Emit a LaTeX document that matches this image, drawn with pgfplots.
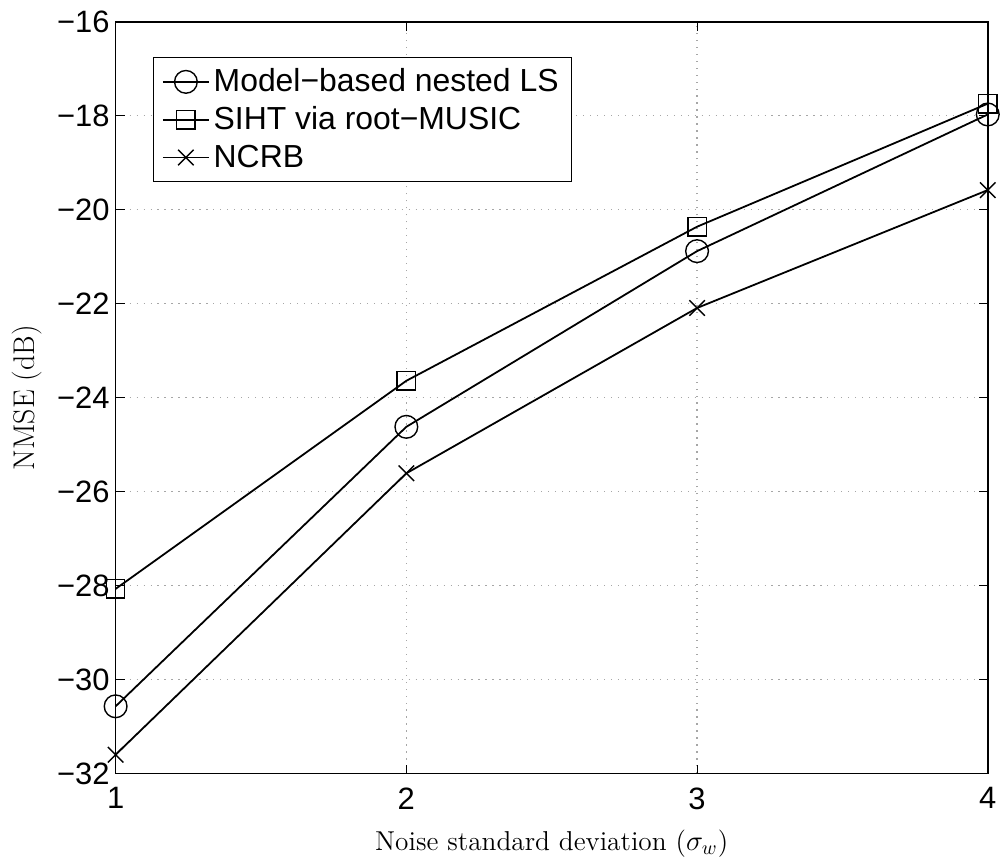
\documentclass[border=0pt]{standalone}
\usepackage{fontspec}
\usepackage{pgfplots}
\pgfplotsset{compat=1.18}
\newfontfamily\arial{Liberation Sans}

\begin{document}
\begin{tikzpicture}
\begin{axis}[
  width=437.5pt, height=377pt, scale only axis,
  xmin=1, xmax=4, ymin=-32, ymax=-16,
  xtick={1,2,3,4}, xticklabels={1,2,3,4},
  ytick={-32,-30,-28,-26,-24,-22,-20,-18,-16},
  yticklabels={−32,−30,−28,−26,−24,−22,−20,−18,−16},
  tick label style={font=\arial\fontsize{15.5}{16}\selectfont},
  xticklabel style={yshift=-3.5pt},
  yticklabel style={xshift=0.5pt},
  tick align=inside,
  major tick length=4.5pt,
  tick style={black, line width=0.5pt},
  axis line style={line width=0.8pt},
  grid=major,
  grid style={dash pattern=on 0.6pt off 2.9pt, gray!70, line width=0.6pt},
  xlabel={Noise standard deviation ($\sigma_w$)},
  ylabel={NMSE (dB)},
  xlabel style={font=\fontsize{13.7}{16}\selectfont,
    at={(axis description cs:0.5,-0.0928)}, anchor=center},
  ylabel style={font=\fontsize{15}{18}\selectfont,
    at={(axis description cs:-0.1017,0.5)}, anchor=center},
  legend style={at={(0.0423,0.953)}, anchor=north west, draw=black,
    line width=0.6pt, font=\arial\fontsize{16}{19}\selectfont,
    cells={anchor=west}, inner xsep=4.5pt, inner ysep=3.5pt, row sep=2pt},
  legend cell align=left,
  legend image code/.code={%
    \draw[mark repeat=2, mark phase=2, #1] plot coordinates {(0pt,0pt) (11.5pt,0pt) (23pt,0pt)};},
]
\addplot[black, line width=0.9pt, mark=o, mark size=5.7pt, mark options={solid, line width=0.7pt}] coordinates {
  (1,-30.57) (2,-24.62) (3,-20.88) (4,-17.97)};
\addlegendentry{Model−based nested LS}
\addplot[black, line width=0.9pt, mark=square, mark size=4.6pt, mark options={solid, line width=0.7pt}] coordinates {
  (1,-28.07) (2,-23.64) (3,-20.36) (4,-17.74)};
\addlegendentry{SIHT via root−MUSIC}
\addplot[black, line width=0.9pt, mark=x, mark size=5.5pt, mark options={solid, line width=0.7pt}] coordinates {
  (1,-31.60) (2,-25.61) (3,-22.09) (4,-19.58)};
\addlegendentry{NCRB}
\end{axis}
\path (current axis.south west) +(-58pt,-44.5pt) (current axis.north east) +(6pt,11pt);
\end{tikzpicture}
\end{document}
